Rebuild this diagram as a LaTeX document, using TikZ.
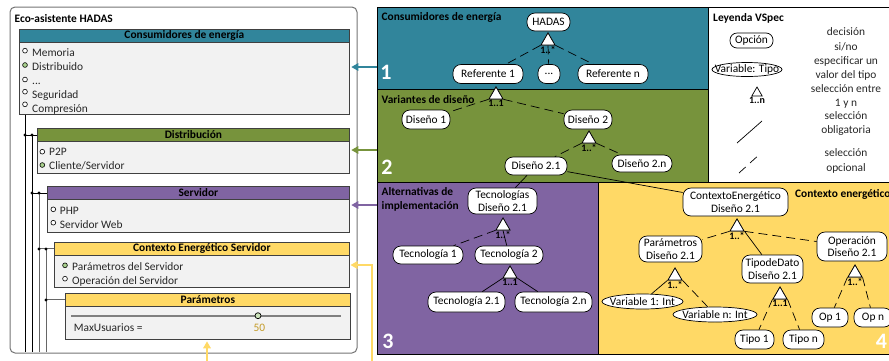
\documentclass[tikz,border=0pt]{standalone}
\usepackage{fontspec}
\setmainfont{Carlito}
\usetikzlibrary{shapes.geometric,arrows.meta}
\definecolor{cteal}{RGB}{49,133,155}
\definecolor{cgreen}{RGB}{119,147,60}
\definecolor{cpurple}{RGB}{128,100,162}
\definecolor{cyellow}{RGB}{255,217,102}
\definecolor{cbody}{RGB}{242,242,242}
\definecolor{cborder}{RGB}{64,64,64}
\definecolor{cgold}{RGB}{196,155,40}
\definecolor{csel}{RGB}{169,209,142}
\definecolor{ctext}{RGB}{38,38,38}
\newcommand\zw[1]{\makebox[0pt]{#1}}
\begin{document}
\begin{tikzpicture}[x=1pt,y=-1pt,font=\fontsize{11.4}{13}\selectfont,
  feat/.style={draw, fill=white, rounded corners=8pt, inner sep=1pt, align=center, line width=0.7pt, font=\fontsize{11.4}{12.7}\selectfont},
  ell/.style={draw, fill=white, ellipse, inner sep=0pt, line width=0.7pt, font=\fontsize{11.4}{12.7}\selectfont},
  tri/.style={draw, fill=white, regular polygon, regular polygon sides=3, minimum size=16pt, inner sep=0pt, line width=0.7pt},
  card/.style={font=\fontsize{10}{10}\selectfont\bfseries, inner sep=0.3pt, anchor=north, yshift=-0.3pt},
  opt/.style={dash pattern=on 9pt off 5pt, line width=0.7pt},
  mand/.style={line width=0.7pt},
  hdr/.style={draw=cborder, line width=0.8pt, anchor=north west, inner sep=0pt, minimum height=13pt, font=\fontsize{11.4}{12}\selectfont\bfseries},
  body/.style={draw=cborder, fill=cbody, line width=0.8pt, anchor=north west, inner sep=0pt},
  radio/.style={circle, draw=black, line width=0.6pt, fill=white, inner sep=0pt, minimum size=4.8pt},
  item/.style={anchor=base west, inner sep=0pt, text=ctext},
  panel/.style={draw=black, line width=0.6pt},
  num/.style={text=white, font=\fontsize{22}{22}\selectfont\bfseries, inner sep=0pt},
  ptitle/.style={anchor=base west, inner sep=0pt, font=\fontsize{11.4}{13}\selectfont\bfseries},
  jdot/.style={circle, fill=black, inner sep=0pt, minimum size=3.2pt},
  treeA/.style={draw=black, line width=0.8pt},
  treeB/.style={draw=black!60, line width=0.9pt},
  legt/.style={anchor=mid, inner sep=0pt, text=ctext},
  carrow/.style={line width=1.5pt, -{Triangle[length=7pt,width=7.5pt]}, shorten >=1.5pt}
]
\useasboundingbox (0,0) rectangle (889,360);
\clip (0,0) rectangle (889,360);

% ---------- right panels ----------
\fill[cteal] (377,7) rectangle (708,89);
\fill[cgreen] (377,89) rectangle (708,182);
\fill[cpurple] (377,182) rectangle (598,354);
\fill[cyellow] (598,182) rectangle (889,354);
\draw[panel] (377,7) rectangle (708,89);
\draw[panel] (377,89) rectangle (708,182);
\draw[panel] (377,182) rectangle (598,354);
\draw[panel] (598,182) rectangle (889,354);
\draw[panel] (708,7) rectangle (889,182);

\node[num] (n1) at (386,72.5) {1};
\node[num] (n2) at (387,167.5) {2};
\node[num] (n3) at (388,341) {3};
\node[num] (n4) at (881.5,341.5) {4};

\node[ptitle] (pt1) at (381.5,20.5) {Consumidores de energía};
\node[ptitle] (pt2) at (381.5,103) {Variantes de diseño};
\node[ptitle, align=left, anchor=north west, font=\fontsize{11.4}{14}\selectfont\bfseries] (pt3) at (381.5,187) {Alternativas de\\implementación};
\node[ptitle] (pt4) at (795,197) {Contexto energético};
\node[ptitle] (pt5) at (713,21) {Leyenda VSpec};

% ---------- left panel ----------
\draw[draw=black!55, line width=1pt, rounded corners=5pt] (10,7) rectangle (357,353);
\node[anchor=base west, inner sep=0pt, font=\fontsize{11.4}{13}\selectfont\bfseries] (title) at (14.5,22.3) {Eco-asistente HADAS};

\node[body, minimum width=330pt, minimum height=72pt] (b1) at (19,42) {};
\node[hdr, fill=cteal, minimum width=330pt] (h1) at (19,29) {Consumidores de energía};
\node[body, minimum width=312pt, minimum height=32pt] (b2) at (37,141) {};
\node[hdr, fill=cgreen, minimum width=312pt] (h2) at (37,128) {Distribución};
\node[body, minimum width=302pt, minimum height=33pt] (b3) at (47,199) {};
\node[hdr, fill=cpurple, minimum width=302pt] (h3) at (47,186) {Servidor};
\node[body, minimum width=295pt, minimum height=32pt] (b4) at (54,255) {};
\node[hdr, fill=cyellow, minimum width=295pt] (h4) at (54,242) {Contexto Energético Servidor};
\node[body, minimum width=285pt, minimum height=33pt] (b5) at (65,306) {};
\node[hdr, fill=cyellow, minimum width=285pt] (h5) at (65,293) {Parámetros};

% items box 1
\node[radio] (r11) at (25,50.7) {};  \node[item] (i11) at (32,56.3) {Memoria};
\node[radio, fill=csel] (r12) at (25,65) {};  \node[item] (i12) at (32,70.3) {Distribuido};
\node[radio] (r13) at (25,79.5) {};  \node[item] (i13) at (32,84.3) {...};
\node[radio] (r14) at (25,91.7) {};  \node[item] (i14) at (32,98.3) {Seguridad};
\node[radio] (r15) at (25,104.3) {}; \node[item] (i15) at (32,112.3) {Compresión};
% box 2
\node[radio] (r21) at (42.3,151.7) {}; \node[item] (i21) at (49,155.5) {P2P};
\node[radio, fill=csel] (r22) at (42.3,165) {}; \node[item] (i22) at (49,169.5) {Cliente/Servidor};
% box 3
\node[radio] (r31) at (53.3,209.3) {}; \node[item] (i31) at (59.7,214.3) {PHP};
\node[radio] (r32) at (53.3,222.7) {}; \node[item] (i32) at (59.7,228.3) {Servidor Web};
% box 4
\node[radio, fill=csel] (r41) at (65,265.3) {}; \node[item] (i41) at (72,270.7) {Parámetros del Servidor};
\node[radio] (r42) at (65,278.7) {}; \node[item] (i42) at (72,284.3) {Operación del Servidor};
% box 5 slider
\coordinate (sl0) at (71,315.7);
\coordinate (sl1) at (341,315.7);
\draw[draw=black!50, line width=1.8pt] (sl0) -- (sl1);
\node[circle, draw=black, fill=csel!60!white, line width=0.7pt, inner sep=0pt, minimum size=6pt] (knob) at (258,315.7) {};
\node[item] (imax) at (73.7,331) {MaxUsuarios =};
\node[item, text=cgold] (i50) at (253.3,331) {50};

% tree of the left panel
\coordinate (bot1) at (25,352);
\coordinate (bot2) at (32,352);
\coordinate (bot3) at (39,352);
\coordinate (bot4) at (46,352);
\draw[treeA] (b1.south -| bot1) -- (bot1);
\draw[treeA] (h2.west -| bot1) -- (h2.west);
\draw[treeA] (h2.west -| bot2) -- (bot2);
\draw[treeA] (h3.west -| bot2) -- (h3.west);
\draw[treeB] (h3.west -| bot3) -- (bot3);
\draw[treeB] (h4.west -| bot3) -- (h4.west);
\draw[treeB] (h4.west -| bot4) -- (bot4);
\draw[treeB] (h5.west -| bot4) -- (h5.west);
\node[jdot] (d1) at (h2.west -| bot1) {};
\node[jdot] (d2) at (h2.west -| bot2) {};
\node[jdot] (d3) at (h3.west -| bot2) {};
\node[jdot] (d4) at (h3.west -| bot3) {};
\node[jdot] (d5) at (h4.west -| bot3) {};
\node[jdot] (d6) at (h4.west -| bot4) {};
\node[jdot] (d7) at (h5.west -| bot4) {};

% arrows from panels to the left boxes
\coordinate (a1) at (377,67);
\coordinate (a2) at (377,150);
\coordinate (a3) at (377,205);
\coordinate (a4) at (372,362);
\coordinate (a4t) at (349,265);
\coordinate (a5) at (207,362);
\draw[carrow, cteal] (a1) -- (a1 -| b1.east);
\draw[carrow, cgreen] (a2) -- (a2 -| b2.east);
\draw[carrow, cpurple] (a3) -- (a3 -| b3.east);
\draw[carrow, cyellow] (a4) |- (a4t);
\draw[carrow, cyellow] (a5) -- (a5 |- b5.south);

% ---------- feature models ----------
\node[feat, minimum width=43pt, minimum height=18pt] (hadas) at (548.5,22) {HADAS};
\node[feat, minimum width=70pt, minimum height=19pt] (ref1) at (488,74) {Referente 1};
\node[feat, minimum width=22pt, minimum height=19pt] (refd) at (549,74) {...};
\node[feat, minimum width=70pt, minimum height=19pt] (refn) at (613,74) {Referente n};
\node[feat, minimum width=48pt, minimum height=19pt] (dis1) at (426,119.5) {Diseño 1};
\node[feat, minimum width=48pt, minimum height=19pt] (dis2) at (588,119.5) {Diseño 2};
\node[feat, minimum width=62pt, minimum height=18pt] (dis21) at (536,166) {Diseño 2.1};
\node[feat, minimum width=60pt, minimum height=17pt] (dis2n) at (642,163.5) {Diseño 2.n};
\node[feat, minimum width=69pt, minimum height=26pt] (tecs) at (502.5,201) {Tecnologías\\Diseño 2.1};
\node[feat, minimum width=70pt, minimum height=18pt] (tec1) at (428,255) {Tecnología 1};
\node[feat, minimum width=68pt, minimum height=18pt] (tec2) at (509,255) {Tecnología 2};
\node[feat, minimum width=77pt, minimum height=20pt] (tec21) at (466.5,302) {Tecnología 2.1};
\node[feat, minimum width=77pt, minimum height=20pt] (tec2n) at (553.5,302) {Tecnología 2.n};
\node[feat, minimum width=105pt, minimum height=28pt] (ctx) at (735.5,202) {ContextoEnergético\\Diseño 2.1};
\node[feat, minimum width=63pt, minimum height=26pt] (par) at (670.5,249) {Parámetros\\Diseño 2.1};
\node[feat, minimum width=61pt, minimum height=28pt] (tdd) at (772.5,269) {TipodeDato\\Diseño 2.1};
\node[feat, minimum width=70pt, minimum height=29pt] (ope) at (852,246.5) {Operación\\Diseño 2.1};
\node[ell, minimum width=81pt, minimum height=15pt] (var1) at (642.5,301.5) {\zw{Variable 1: Int}};
\node[ell, minimum width=84pt, minimum height=15pt] (varn) at (715,314.5) {\zw{Variable n: Int}};
\node[feat, minimum width=39pt, minimum height=19pt] (tipo1) at (754.5,339.5) {Tipo 1};
\node[feat, minimum width=41pt, minimum height=19pt] (tipon) at (803.5,339.5) {Tipo n};
\node[feat, minimum width=36pt, minimum height=19pt] (op1) at (830,317.5) {Op 1};
\node[feat, minimum width=38pt, minimum height=19pt] (opn) at (873,317.5) {Op n};

% mandatory links between models
\draw[mand] (dis21) -- (tecs);
\draw[mand] (dis21) -- (ctx);

% triangles (apex + 8 = centre)
\node[tri] (t0) at (548,41) {};
\node[tri] (t1) at (496,95) {};
\node[tri] (t2) at (589,139) {};
\node[tri] (t3) at (503,226) {};
\node[tri] (t4) at (510,274) {};
\node[tri] (t5) at (737,227) {};
\node[tri] (t6) at (675,276) {};
\node[tri] (t7) at (780,295) {};
\node[tri] (t8) at (855,273) {};

% group links
\draw[opt] (t0.corner 2) -- (ref1);
\draw[opt] (t0.south) -- (refd);
\draw[opt] (t0.corner 3) -- (refn);
\draw[opt] (t1.corner 2) -- (dis1);
\draw[opt] (t1.corner 3) -- (dis2);
\draw[opt] (t2.corner 2) -- (dis21);
\draw[opt] (t2.corner 3) -- (dis2n);
\draw[opt] (t3.corner 2) -- (tec1);
\draw[mand] (t3.south) -- (tec2);
\draw[mand] (t4.corner 2) -- (tec21);
\draw[mand] (t4.corner 3) -- (tec2n);
\draw[opt] (t5.corner 2) -- (par);
\draw[mand] (t5.corner 3) -- (tdd);
\draw[opt] (t5.corner 3) -- (ope);
\draw[mand] (t6.corner 2) -- (var1);
\draw[opt] (t6.corner 3) -- (varn);
\draw[opt] (t7.corner 2) -- (tipo1);
\draw[opt] (t7.corner 3) -- (tipon);
\draw[opt] (t8.corner 2) -- (op1);
\draw[opt] (t8.corner 3) -- (opn);

% redraw triangles on top of links
\node[tri] at (t0) {};
\node[tri] at (t1) {};
\node[tri] at (t2) {};
\node[tri] at (t3) {};
\node[tri] at (t4) {};
\node[tri] at (t5) {};
\node[tri] at (t6) {};
\node[tri] at (t7) {};
\node[tri] at (t8) {};

\node[card] (c0) at (t0.south) {1..*};
\node[card] (c1) at (t1.south) {1..1};
\node[card] (c2) at (t2.south) {1..*};
\node[card] (c3) at (t3.south) {1..*};
\node[card] (c4) at (t4.south) {1..1};
\node[card] (c5) at (t5.south) {1..*};
\node[card] (c6) at (t6.south) {1..*};
\node[card] (c7) at (t7.south) {1..1};
\node[card] (c8) at (t8.south) {1..*};

% ---------- legend ----------
\node[feat, rounded corners=7pt, minimum width=43pt, minimum height=15pt] (lopt) at (751.5,40.5) {Opción};
\node[ell, minimum width=70pt, minimum height=14pt] (lvar) at (747,69.5) {\zw{Variable: Tipo}};
\node[tri, minimum size=12pt] (ltri) at (757,93) {};
\node[card] (lcard) at (ltri.south) {1..n};
\coordinate (lm0) at (737,143);
\coordinate (lm1) at (762,121);
\coordinate (lo0) at (739,173);
\coordinate (lo1) at (761,153);
\draw[mand] (lm0) -- (lm1);
\draw[dash pattern=on 9pt off 6pt, line width=0.7pt] (lo0) -- (lo1);
\node[legt] (lt1) at (846,33) {decisión};
\node[legt] (lt2) at (846,48) {si/no};
\node[legt] (lt3) at (846,62) {especificar un};
\node[legt] (lt4) at (846,76) {valor del tipo};
\node[legt] (lt5) at (846,90) {selección entre};
\node[legt] (lt6) at (846,104) {1 y n};
\node[legt] (lt7) at (846,117.5) {selección};
\node[legt] (lt8) at (846,131.5) {obligatoria};
\node[legt] (lt9) at (846,154.5) {selección};
\node[legt] (lt10) at (846,169) {opcional};
\end{tikzpicture}
\end{document}
